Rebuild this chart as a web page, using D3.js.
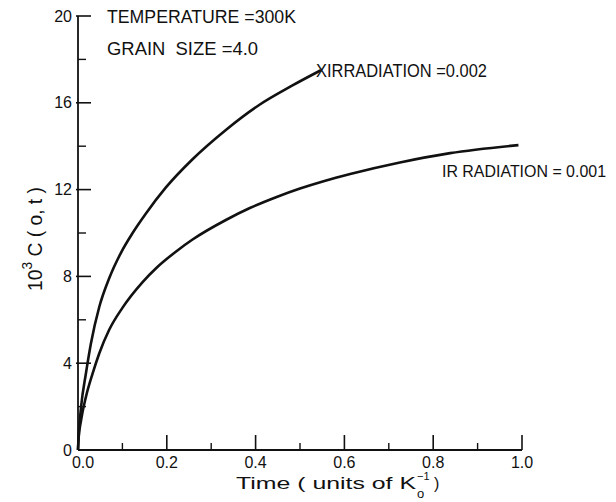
<!DOCTYPE html>
<html>
<head>
<meta charset="utf-8">
<script src="https://cdn.jsdelivr.net/npm/d3@7"></script>
<style>
  body { margin: 0; background: #fff; }
  text { font-family: "Liberation Sans", Arial, sans-serif; fill: #111; }
</style>
</head>
<body>
<div id="chart"></div>
<script>
// Data: time (units of 1/K0), 10^3 C(o,t)
const timeHigh = [0, 0.002, 0.007, 0.018, 0.029, 0.048, 0.07, 0.097, 0.123, 0.153, 0.198, 0.258, 0.333, 0.408, 0.483, 0.547];
const concHigh = [0, 0.8, 2.0, 3.55, 4.9, 6.6, 7.9, 9.1, 10.0, 10.9, 12.1, 13.4, 14.75, 15.9, 16.8, 17.5];

const timeLow = [0, 0.001, 0.007, 0.018, 0.033, 0.048, 0.07, 0.1, 0.146, 0.177, 0.221, 0.258, 0.333, 0.387, 0.446, 0.5, 0.555, 0.613, 0.725, 0.838, 0.992];
const concLow = [0, 0.46, 1.38, 2.46, 3.53, 4.46, 5.53, 6.55, 7.75, 8.4, 9.15, 9.7, 10.6, 11.15, 11.65, 12.05, 12.4, 12.72, 13.25, 13.68, 14.05];

const xMajor = [0.0, 0.2, 0.4, 0.6, 0.8, 1.0];
const xMinor = [0.1, 0.3, 0.5, 0.7, 0.9];
const yMajor = [0, 4, 8, 12, 16, 20];
const yMinor = [2, 6, 10, 14, 18];

const width = 616, height = 502;
const margin = {left: 78, right: 94, top: 16, bottom: 52};

const svg = d3.select("#chart")
  .append("svg")
    .attr("width", width)
    .attr("height", height);

const x = d3.scaleLinear()
  .domain([0, 1])
  .range([margin.left, width - margin.right]);

const y = d3.scaleLinear()
  .domain([0, 20])
  .range([height - margin.bottom, margin.top]);

// Axis lines
svg.append("line")
  .attr("x1", x(0)).attr("x2", x(0))
  .attr("y1", y(20)).attr("y2", y(0))
  .attr("stroke", "#111").attr("stroke-width", 1.8);
svg.append("line")
  .attr("x1", x(0)).attr("x2", x(1))
  .attr("y1", y(0)).attr("y2", y(0))
  .attr("stroke", "#111").attr("stroke-width", 1.8);

// Y ticks (drawn inward)
svg.append("g").selectAll("line")
  .data(yMajor.filter(d => d > 0))
  .join("line")
    .attr("x1", x(0) - 2).attr("x2", x(0) + 13)
    .attr("y1", d => y(d)).attr("y2", d => y(d))
    .attr("stroke", "#111").attr("stroke-width", 1.6);
svg.append("g").selectAll("line")
  .data(yMinor)
  .join("line")
    .attr("x1", x(0)).attr("x2", x(0) + 8)
    .attr("y1", d => y(d)).attr("y2", d => y(d))
    .attr("stroke", "#111").attr("stroke-width", 1.4);
svg.append("g").selectAll("text")
  .data(yMajor)
  .join("text")
    .attr("x", x(0) - 6)
    .attr("y", d => y(d))
    .attr("dy", "0.35em")
    .attr("text-anchor", "end")
    .style("font-size", "16px")
    .text(d => d);

// X ticks (drawn inward)
svg.append("g").selectAll("line")
  .data(xMajor.filter(d => d > 0))
  .join("line")
    .attr("x1", d => x(d)).attr("x2", d => x(d))
    .attr("y1", y(0)).attr("y2", y(0) - 15)
    .attr("stroke", "#111").attr("stroke-width", 1.6);
svg.append("g").selectAll("line")
  .data(xMinor)
  .join("line")
    .attr("x1", d => x(d)).attr("x2", d => x(d))
    .attr("y1", y(0)).attr("y2", y(0) - 7)
    .attr("stroke", "#111").attr("stroke-width", 1.4);
svg.append("g").selectAll("text")
  .data(xMajor)
  .join("text")
    .attr("x", d => x(d) + (d === 0 ? 5 : 0))
    .attr("y", y(0) + 18)
    .attr("text-anchor", "middle")
    .style("font-size", "16px")
    .text(d => d3.format(".1f")(d));

// Curves
const line = d3.line()
  .x(d => x(d[0]))
  .y(d => y(d[1]))
  .curve(d3.curveMonotoneX);

svg.append("path")
  .datum(timeHigh.map((t, i) => [t, concHigh[i]]))
  .attr("fill", "none").attr("stroke", "#111").attr("stroke-width", 2.6)
  .attr("d", line);
svg.append("path")
  .datum(timeLow.map((t, i) => [t, concLow[i]]))
  .attr("fill", "none").attr("stroke", "#111").attr("stroke-width", 2.6)
  .attr("d", line);

// Annotations
svg.append("text")
  .attr("x", 107).attr("y", 23)
  .attr("textLength", 189).attr("lengthAdjust", "spacingAndGlyphs")
  .style("font-size", "18px")
  .text("TEMPERATURE =300K");
svg.append("text")
  .attr("x", 107).attr("y", 55)
  .attr("textLength", 151).attr("lengthAdjust", "spacingAndGlyphs")
  .style("font-size", "18px")
  .attr("xml:space", "preserve")
  .text("GRAIN  SIZE =4.0");
svg.append("text")
  .attr("x", 316).attr("y", 77)
  .attr("textLength", 171).attr("lengthAdjust", "spacingAndGlyphs")
  .style("font-size", "18px")
  .text("XIRRADIATION =0.002");
svg.append("text")
  .attr("x", 442).attr("y", 177)
  .attr("textLength", 164).attr("lengthAdjust", "spacingAndGlyphs")
  .style("font-size", "16px")
  .text("IR RADIATION = 0.001");

// X axis title
svg.append("text")
  .attr("x", 236).attr("y", 489)
  .attr("textLength", 180).attr("lengthAdjust", "spacingAndGlyphs")
  .style("font-size", "16px")
  .text("Time ( units of K");
svg.append("text")
  .attr("x", 417).attr("y", 480)
  .style("font-size", "11px")
  .text("−1");
svg.append("text")
  .attr("x", 417).attr("y", 498)
  .style("font-size", "13px")
  .text("o");
svg.append("text")
  .attr("x", 434).attr("y", 489)
  .style("font-size", "16px")
  .text(")");

// Y axis title
const yt = svg.append("text")
  .attr("transform", `translate(42, 291) rotate(-90)`)
  .attr("textLength", 104).attr("lengthAdjust", "spacingAndGlyphs")
  .style("font-size", "21px");
yt.append("tspan").text("10");
yt.append("tspan").attr("dy", -10).style("font-size", "15px").text("3");
yt.append("tspan").attr("dy", 10).text(" C ( o, t )");
</script>
</body>
</html>
